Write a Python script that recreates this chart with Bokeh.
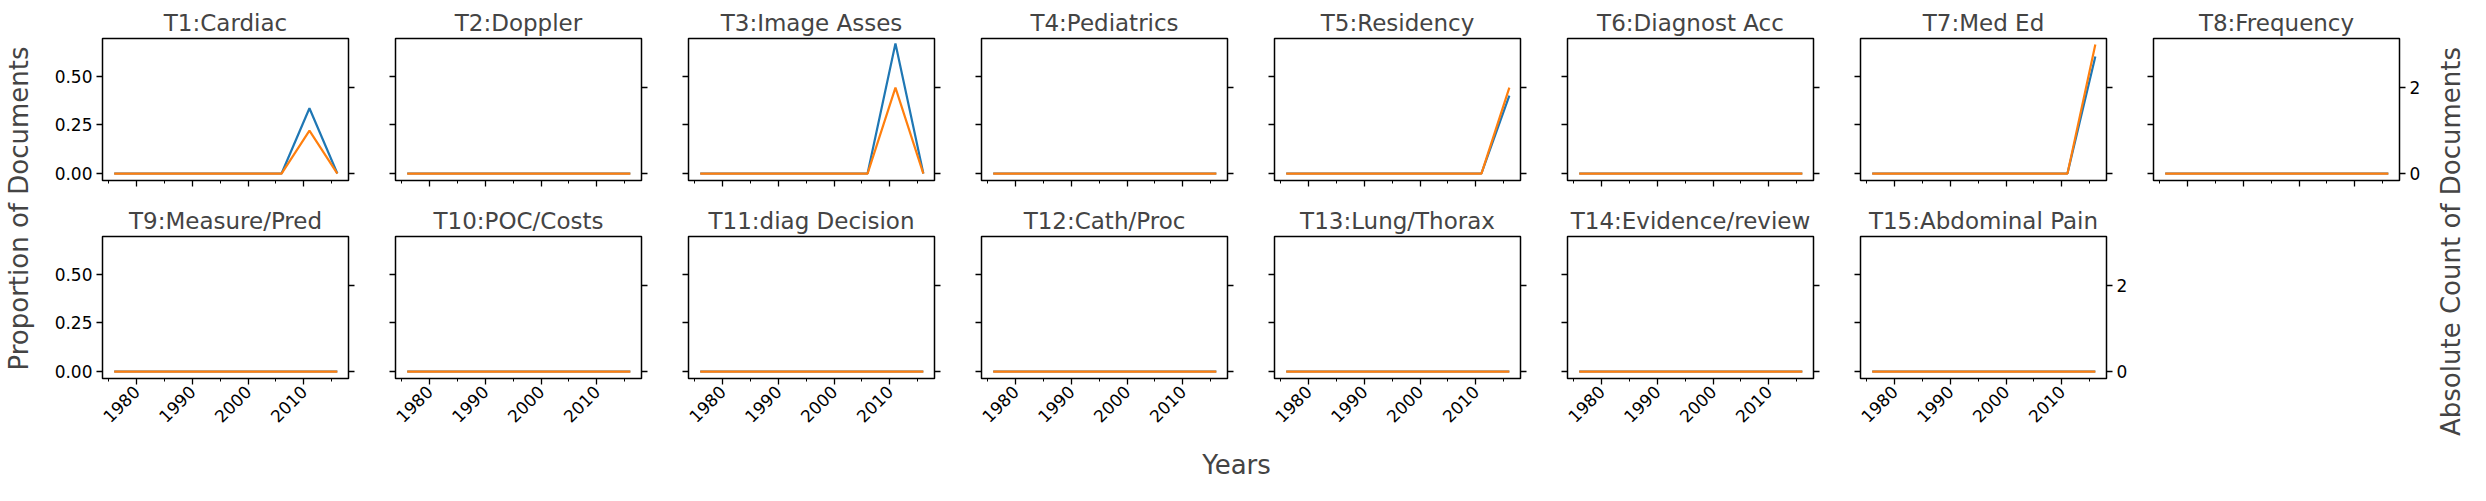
import math
from bokeh.plotting import figure
from bokeh.models import Range1d, LinearAxis, FixedTicker, Label, CustomJSTickFormatter
from bokeh.layouts import row, column
from bokeh.embed import file_html
from bokeh.resources import INLINE

# topic titles
topics = ["T1:Cardiac", "T2:Doppler", "T3:Image Asses", "T4:Pediatrics",
          "T5:Residency", "T6:Diagnost Acc", "T7:Med Ed", "T8:Frequency",
          "T9:Measure/Pred", "T10:POC/Costs", "T11:diag Decision", "T12:Cath/Proc",
          "T13:Lung/Thorax", "T14:Evidence/review", "T15:Abdominal Pain"]

years = [1976, 1981, 1986, 1991, 1996, 2001, 2006, 2011, 2016]

zeros = [0, 0, 0, 0, 0, 0, 0, 0, 0]
# proportion of documents per topic
prop = {
    "T1:Cardiac": [0, 0, 0, 0, 0, 0, 0, 0.335, 0],
    "T3:Image Asses": [0, 0, 0, 0, 0, 0, 0, 0.667, 0],
    "T5:Residency": [0, 0, 0, 0, 0, 0, 0, 0, 0.4],
    "T7:Med Ed": [0, 0, 0, 0, 0, 0, 0, 0, 0.6],
}
# absolute count per topic
count = {
    "T1:Cardiac": [0, 0, 0, 0, 0, 0, 0, 1, 0],
    "T3:Image Asses": [0, 0, 0, 0, 0, 0, 0, 2, 0],
    "T5:Residency": [0, 0, 0, 0, 0, 0, 0, 0, 2],
    "T7:Med Ed": [0, 0, 0, 0, 0, 0, 0, 0, 3],
}

FONT = "DejaVu Sans"
BLUE = "#1f77b4"
ORANGE = "#ff7f0e"
TICK = "17px"


def blank():
    return CustomJSTickFormatter(code="return ''")


def panel(name, idx):
    r = idx // 8
    c = idx % 8
    last_in_row = (c == 7) or (idx == 14)
    left = 62 if c == 0 else 32
    right = 35 if last_in_row else 15
    top = 38 if r == 0 else 46
    bottom = 10 if r == 0 else 69
    p = figure(frame_width=246, frame_height=142, output_backend="svg",
               toolbar_location=None, x_range=Range1d(1973.9, 2018.0),
               y_range=Range1d(-0.036, 0.693), min_border_left=left,
               min_border_right=right, min_border_top=top, min_border_bottom=bottom,
               title=name)
    p.title.align = "center"
    p.title.text_font = FONT
    p.title.text_font_size = "23px"
    p.title.text_font_style = "normal"
    p.title.standoff = 5
    p.grid.visible = False
    p.outline_line_color = "black"
    p.outline_line_width = 1.5
    p.outline_line_alpha = 1
    p.background_fill_color = "white"
    p.border_fill_color = "white"

    p.extra_y_ranges = {"cnt": Range1d(-0.16, 3.14)}
    ax2 = LinearAxis(y_range_name="cnt", ticker=FixedTicker(ticks=[0, 2]))
    p.add_layout(ax2, "right")

    p.xaxis.ticker = FixedTicker(ticks=[1980, 1990, 2000, 2010],
                                 minor_ticks=[1975, 1980, 1985, 1990, 1995, 2000, 2005, 2010, 2015])
    p.yaxis[0].ticker = FixedTicker(ticks=[0, 0.25, 0.5])
    for ax in p.axis:
        ax.axis_line_color = None
        ax.major_tick_in = 0
        ax.major_tick_out = 6
        ax.minor_tick_in = 0
        ax.minor_tick_out = 3
        ax.major_tick_line_width = 1.3
        ax.minor_tick_line_width = 1
        ax.major_label_text_font = FONT
        ax.major_label_text_font_size = TICK
        ax.major_label_text_color = "black"
        ax.major_label_standoff = 4
    p.yaxis[0].minor_tick_out = 0
    ax2.minor_tick_out = 0
    if c != 0:
        p.yaxis[0].formatter = blank()
    else:
        p.yaxis[0].major_label_overrides = {0: "0.00", 0.25: "0.25", 0.5: "0.50"}
    if not last_in_row:
        ax2.formatter = blank()
    if r == 0:
        p.xaxis.formatter = blank()
    else:
        p.xaxis.major_label_orientation = math.pi / 4

    p.line(years, prop.get(name, zeros), color=BLUE, line_width=2.2)
    p.line(years, count.get(name, zeros), color=ORANGE, line_width=2.2, y_range_name="cnt")
    return p


figs = [panel(n, i) for i, n in enumerate(topics)]


def text_fig(w, h, txt, x, y, angle):
    f = figure(width=w, height=h, output_backend="svg", toolbar_location=None,
               x_range=Range1d(0, w), y_range=Range1d(0, h), min_border=0)
    f.axis.visible = False
    f.grid.visible = False
    f.outline_line_color = None
    f.add_layout(Label(x=x, y=y, text=txt, angle=angle, text_align="center",
                       text_baseline="middle", text_font=FONT, text_font_size="26px"))
    return f


grid = column(row(*figs[:8], spacing=0), row(*figs[8:], spacing=0), spacing=0)
bottom = text_fig(2394, 38, "Years", 1196, 21, 0)
left = text_fig(40, 485, "Proportion of Documents", 18, 277, math.pi / 2)
right = text_fig(36, 485, "Absolute Count of Documents", 16, 244, math.pi / 2)
p = row(left, column(grid, bottom, spacing=0), right, spacing=0)

open("out.html", "w").write(file_html(p, INLINE))
